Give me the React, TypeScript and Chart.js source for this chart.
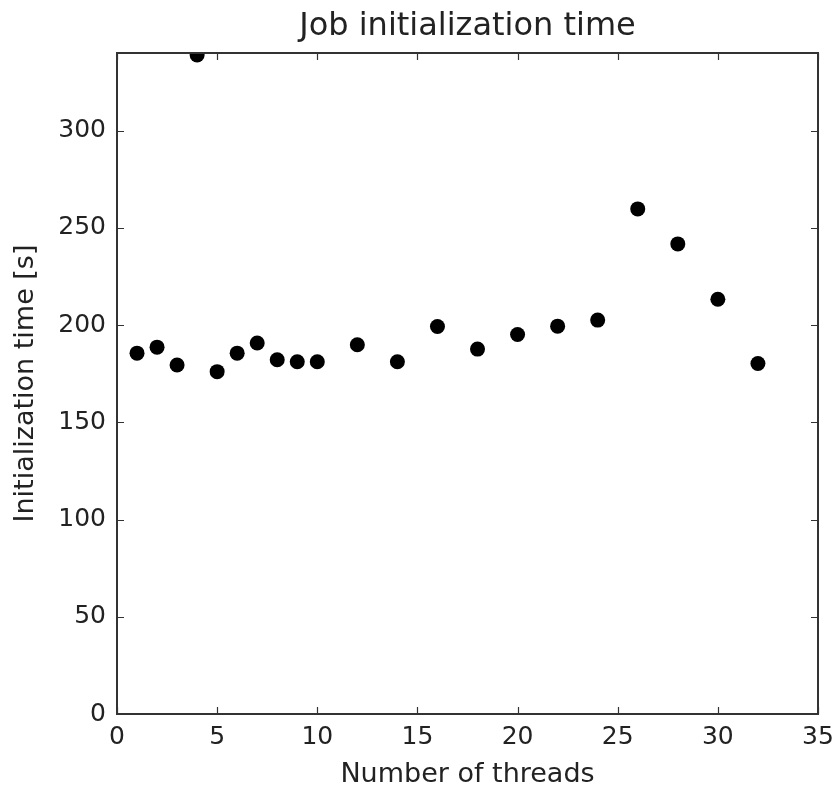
import React, { useEffect, useRef } from "react";
import { Chart, registerables } from "chart.js";

Chart.register(...registerables);

const threads = [1, 2, 3, 4, 5, 6, 7, 8, 9, 10, 12, 14, 16, 18, 20, 22, 24, 26, 28, 30, 32];
const initTimes = [185.6, 188.7, 179.5, 339, 176.1, 185.6, 190.8, 182.2, 181.2, 181.2, 189.9, 181.2, 199.3, 187.7, 195.2, 199.5, 202.6, 259.8, 241.8, 213.3, 180.3];
const xTickValues = [0, 5, 10, 15, 20, 25, 30, 35];
const yTickValues = [0, 50, 100, 150, 200, 250, 300];

const FONT = "'DejaVu Sans', sans-serif";
const TEXT = "#222";

const frameTicks = {
  id: "frameTicks",
  afterDatasetsDraw(chart: any) {
    const { ctx, chartArea, scales } = chart;
    const { left, right, top, bottom } = chartArea;
    const len = 7;
    ctx.save();
    ctx.strokeStyle = "#333";
    ctx.lineWidth = 1.2;
    ctx.beginPath();
    for (const t of scales.x.ticks) {
      const px = Math.round(scales.x.getPixelForValue(t.value)) + 0.5;
      ctx.moveTo(px, bottom);
      ctx.lineTo(px, bottom - len);
      ctx.moveTo(px, top);
      ctx.lineTo(px, top + len);
    }
    for (const t of scales.y.ticks) {
      const py = Math.round(scales.y.getPixelForValue(t.value)) + 0.5;
      ctx.moveTo(left, py);
      ctx.lineTo(left + len, py);
      ctx.moveTo(right, py);
      ctx.lineTo(right - len, py);
    }
    ctx.stroke();
    ctx.lineWidth = 2;
    ctx.strokeStyle = "#333";
    ctx.strokeRect(left, top, right - left, bottom - top);
    ctx.restore();
  },
};

export default function App() {
  const ref = useRef<HTMLCanvasElement | null>(null);

  useEffect(() => {
    if (!ref.current) return;
    const chart = new Chart(ref.current, {
      type: "scatter",
      data: {
        datasets: [
          {
            data: threads.map((x, i) => ({ x, y: initTimes[i] })),
            backgroundColor: "#000",
            borderWidth: 0,
            pointRadius: 7.5,
            pointHoverRadius: 7.5,
            clip: 0,
          } as any,
        ],
      },
      options: {
        animation: false,
        responsive: true,
        maintainAspectRatio: false,
        events: [],
        layout: { padding: { left: 0, right: 15, top: 0, bottom: 0 } },
        plugins: {
          legend: { display: false },
          tooltip: { enabled: false },
          title: {
            display: true,
            fullSize: false,
            text: "Job initialization time",
            color: TEXT,
            font: { family: FONT, size: 32, weight: "normal" },
            padding: { top: 7, bottom: 7.6 },
          } as any,
        },
        scales: {
          x: {
            type: "linear",
            min: 0,
            max: 35,
            afterBuildTicks: (s: any) => {
              s.ticks = xTickValues.map((v) => ({ value: v }));
            },
            afterFit: (s: any) => {
              s.height = 74;
              s.paddingLeft = 0;
              s.paddingRight = 0;
            },
            grid: { display: false, drawTicks: false },
            border: { display: false },
            ticks: {
              color: TEXT,
              font: { family: FONT, size: 25 },
              padding: 8,
              maxRotation: 0,
              autoSkip: false,
            },
            title: {
              display: true,
              text: "Number of threads",
              color: TEXT,
              font: { family: FONT, size: 27 },
              padding: { top: 0, bottom: -3 },
            },
          },
          y: {
            type: "linear",
            min: 0,
            max: 340,
            afterBuildTicks: (s: any) => {
              s.ticks = yTickValues.map((v) => ({ value: v }));
            },
            afterFit: (s: any) => {
              s.width = 117;
              s.paddingTop = 0;
              s.paddingBottom = 0;
            },
            grid: { display: false, drawTicks: false },
            border: { display: false },
            ticks: {
              color: TEXT,
              font: { family: FONT, size: 25 },
              padding: 11,
              autoSkip: false,
            },
            title: {
              display: true,
              text: "Initialization time [s]",
              color: TEXT,
              font: { family: FONT, size: 27 },
              padding: { top: 10, bottom: 0 },
            },
          },
        },
      },
      plugins: [frameTicks],
    });
    return () => chart.destroy();
  }, []);

  return (
    <div style={{ position: "fixed", left: 0, top: 0, width: 833, height: 788, background: "#fff" }}>
      <canvas ref={ref} />
    </div>
  );
}
